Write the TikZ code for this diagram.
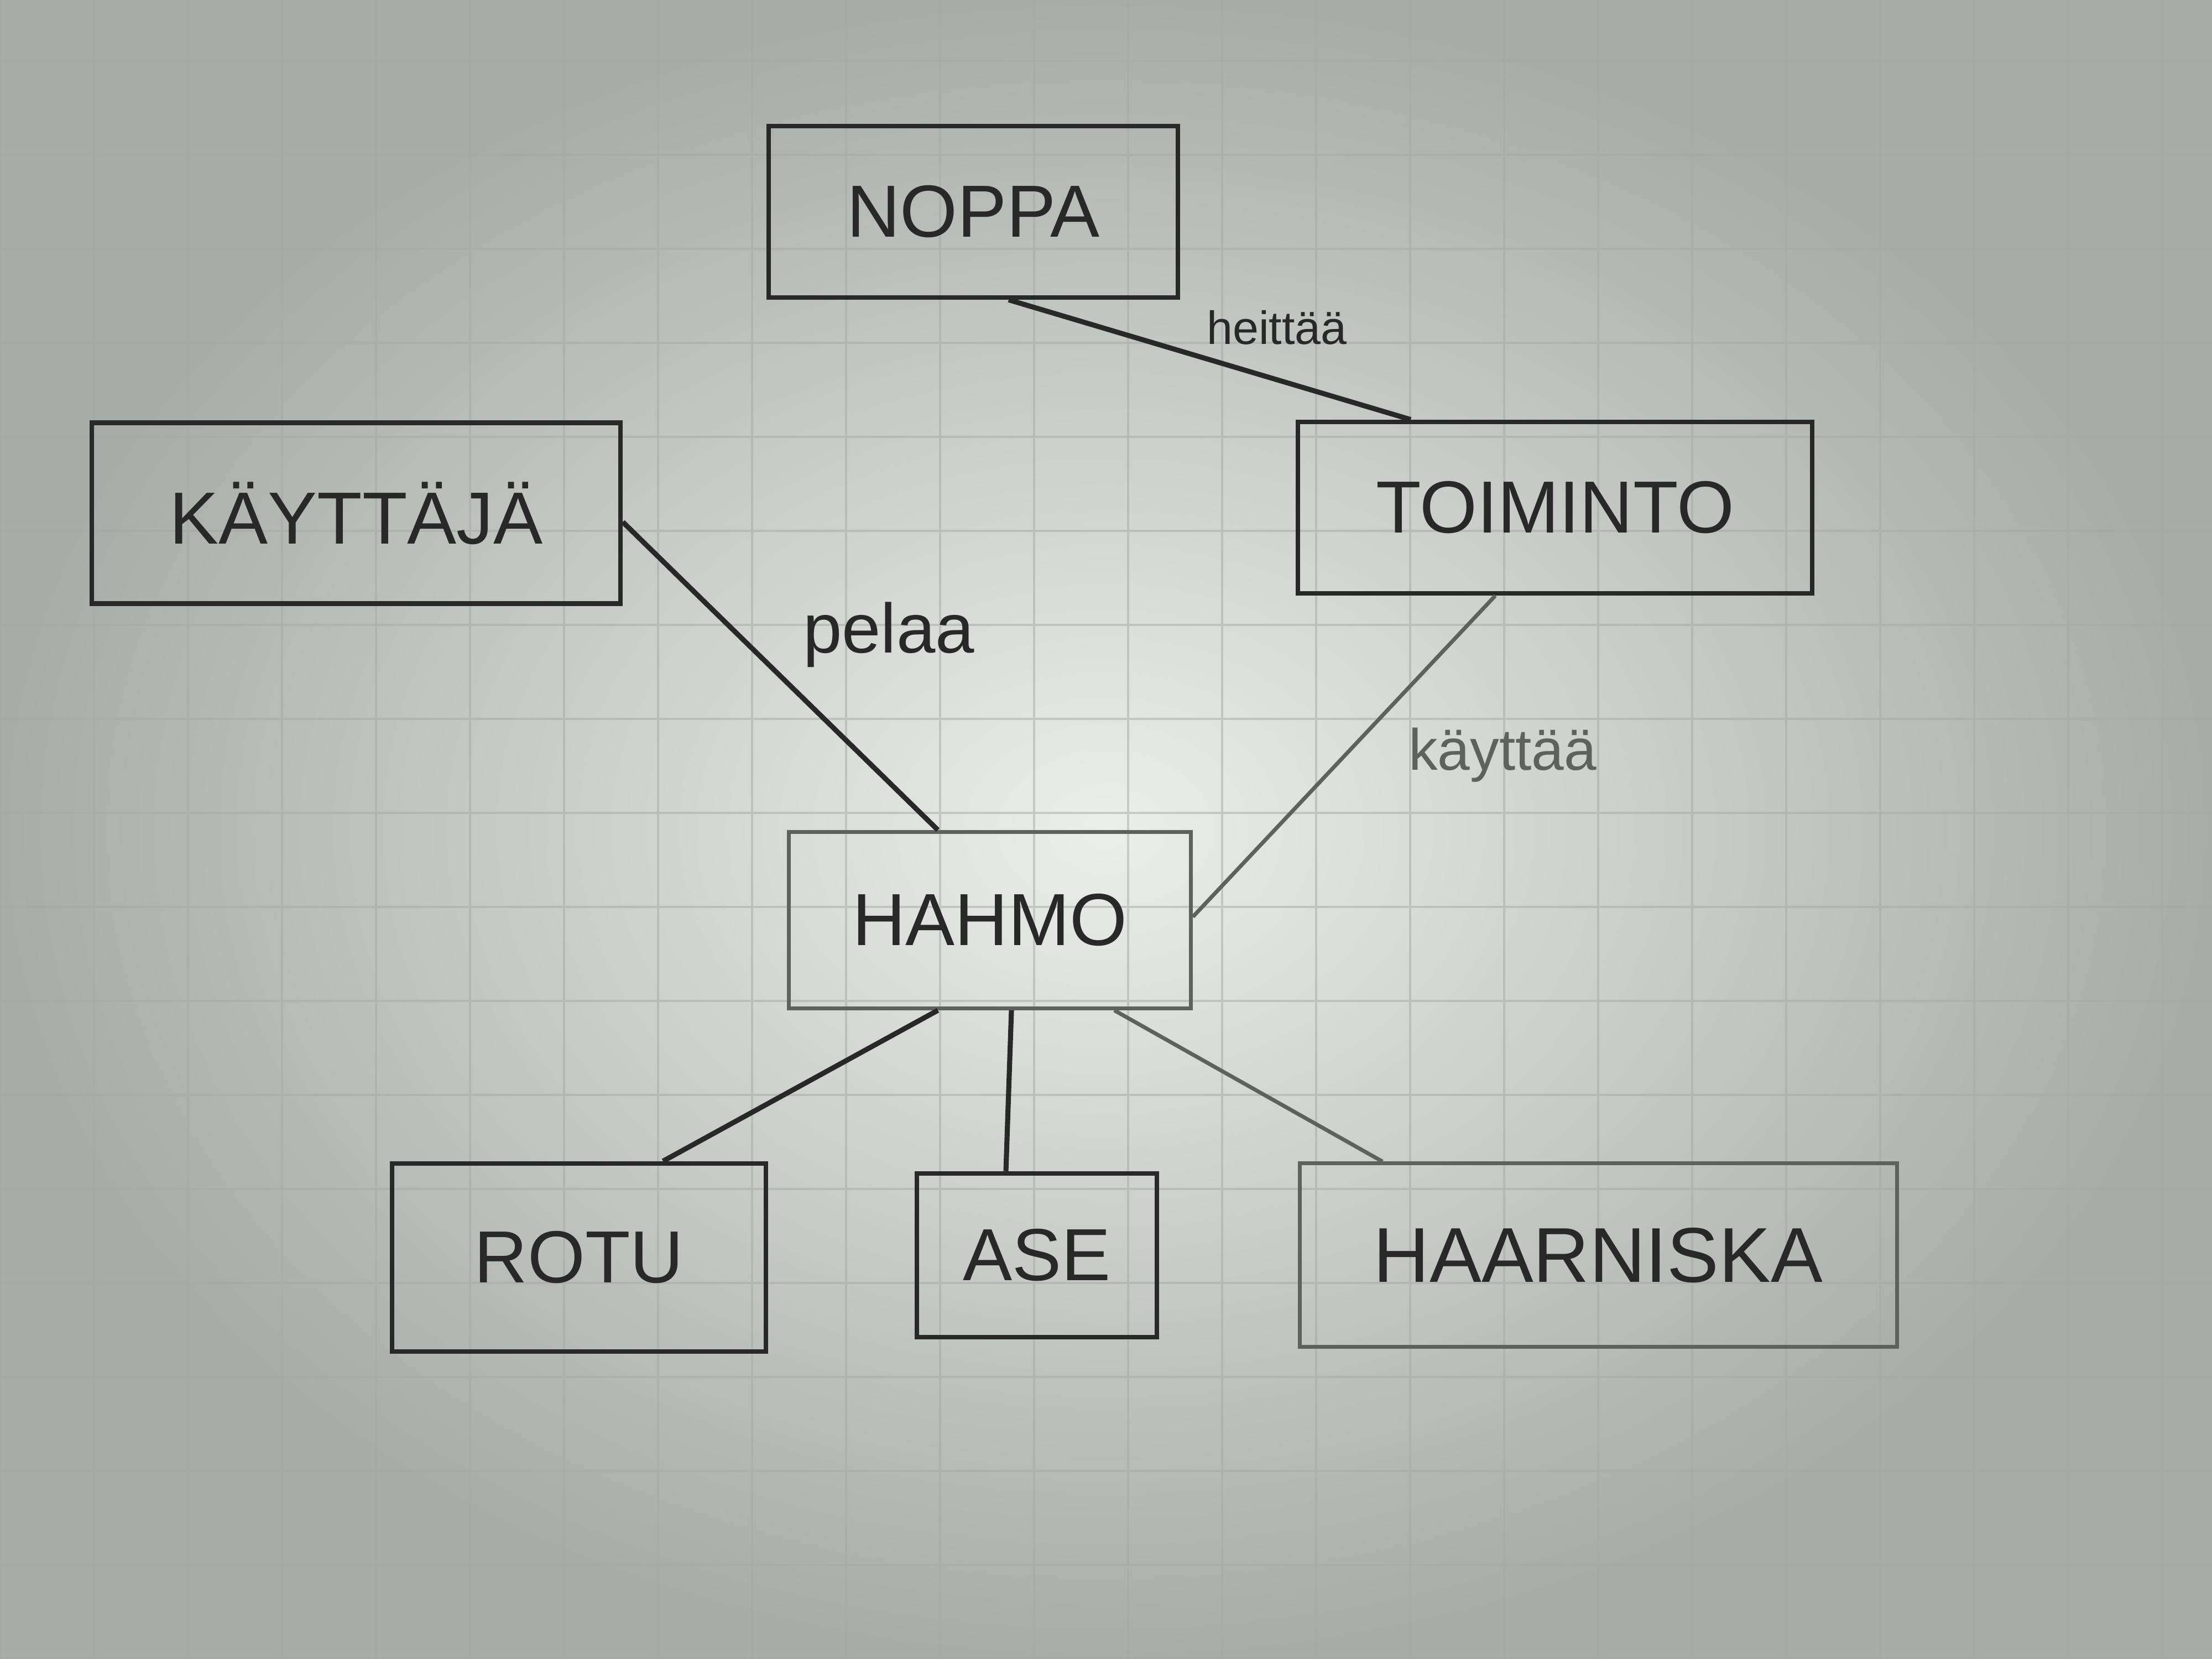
\documentclass[tikz,border=0pt]{standalone}
\usepackage{fontspec}
\setmainfont{Liberation Sans}
\usetikzlibrary{calc}
\definecolor{paperin}{RGB}{236,238,235}
\definecolor{paperout}{RGB}{168,172,168}
\definecolor{gridc}{RGB}{165,170,167}
\definecolor{ink}{RGB}{40,40,40}
\definecolor{inklight}{RGB}{95,97,95}
\tikzset{
  entity/.style={draw=ink, line width=2.4pt, minimum height=3.1cm, inner sep=0pt,
    text=ink, font=\fontsize{38}{40}\selectfont},
  rel/.style={draw=ink, line width=2.6pt},
  rellight/.style={draw=inklight, line width=2pt},
  lbl/.style={text=ink, inner sep=0pt}
}
\begin{document}
\begin{tikzpicture}
\useasboundingbox (0,0) rectangle (40,30);
\shade[inner color=paperin, outer color=paperout] (0,0) rectangle (40,30);
\draw[gridc, line width=1pt, opacity=0.5] (0,0) grid[step=1.7] (40,30);

% entities
\node[entity, minimum width=7.4cm] (noppa) at (17.6,26.17) {NOPPA};
\node[entity, minimum width=9.3cm] (toiminto) at (28.12,20.82) {TOIMINTO};
\node[entity, minimum width=9.56cm, minimum height=3.27cm] (kayttaja) at (6.44,20.72) {KÄYTTÄJÄ};
\node[entity, minimum width=7.27cm, minimum height=3.19cm, draw=inklight, line width=2pt] (hahmo) at (17.9,13.36) {HAHMO};
\node[entity, minimum width=6.76cm, minimum height=3.4cm] (rotu) at (10.47,7.26) {ROTU};
\node[entity, minimum width=4.34cm, minimum height=2.96cm] (ase) at (18.75,7.3) {ASE};
\node[entity, minimum width=10.8cm, minimum height=3.32cm, draw=inklight, line width=2pt, font=\fontsize{40}{42}\selectfont] (haarniska) at (28.9,7.3) {HAARNISKA};

% connectors
\draw[rel] ([xshift=0.64cm]noppa.south) -- ([xshift=-2.61cm]toiminto.north);
\draw[rel] ([yshift=-0.16cm]kayttaja.east) -- ([xshift=-0.94cm]hahmo.north);
\draw[rellight] ([xshift=-1.08cm]toiminto.south) -- ([yshift=0.06cm]hahmo.east);
\draw[rel] ([xshift=-0.94cm]hahmo.south) -- ([xshift=1.52cm]rotu.north);
\draw[rel] ([xshift=0.39cm]hahmo.south) -- ([xshift=-0.56cm]ase.north);
\draw[rellight] ([xshift=2.25cm]hahmo.south) -- ([xshift=-3.9cm]haarniska.north);

% labels
\node[lbl, font=\fontsize{24}{26}\selectfont] (lheittaa) at (23.09,24.08) {heittää};
\node[lbl, font=\fontsize{36}{38}\selectfont] (lpelaa) at (16.07,18.52) {pelaa};
\node[lbl, font=\fontsize{30}{32}\selectfont, text=inklight] (lkayttaa) at (27.17,16.35) {käyttää};
\end{tikzpicture}
\end{document}
